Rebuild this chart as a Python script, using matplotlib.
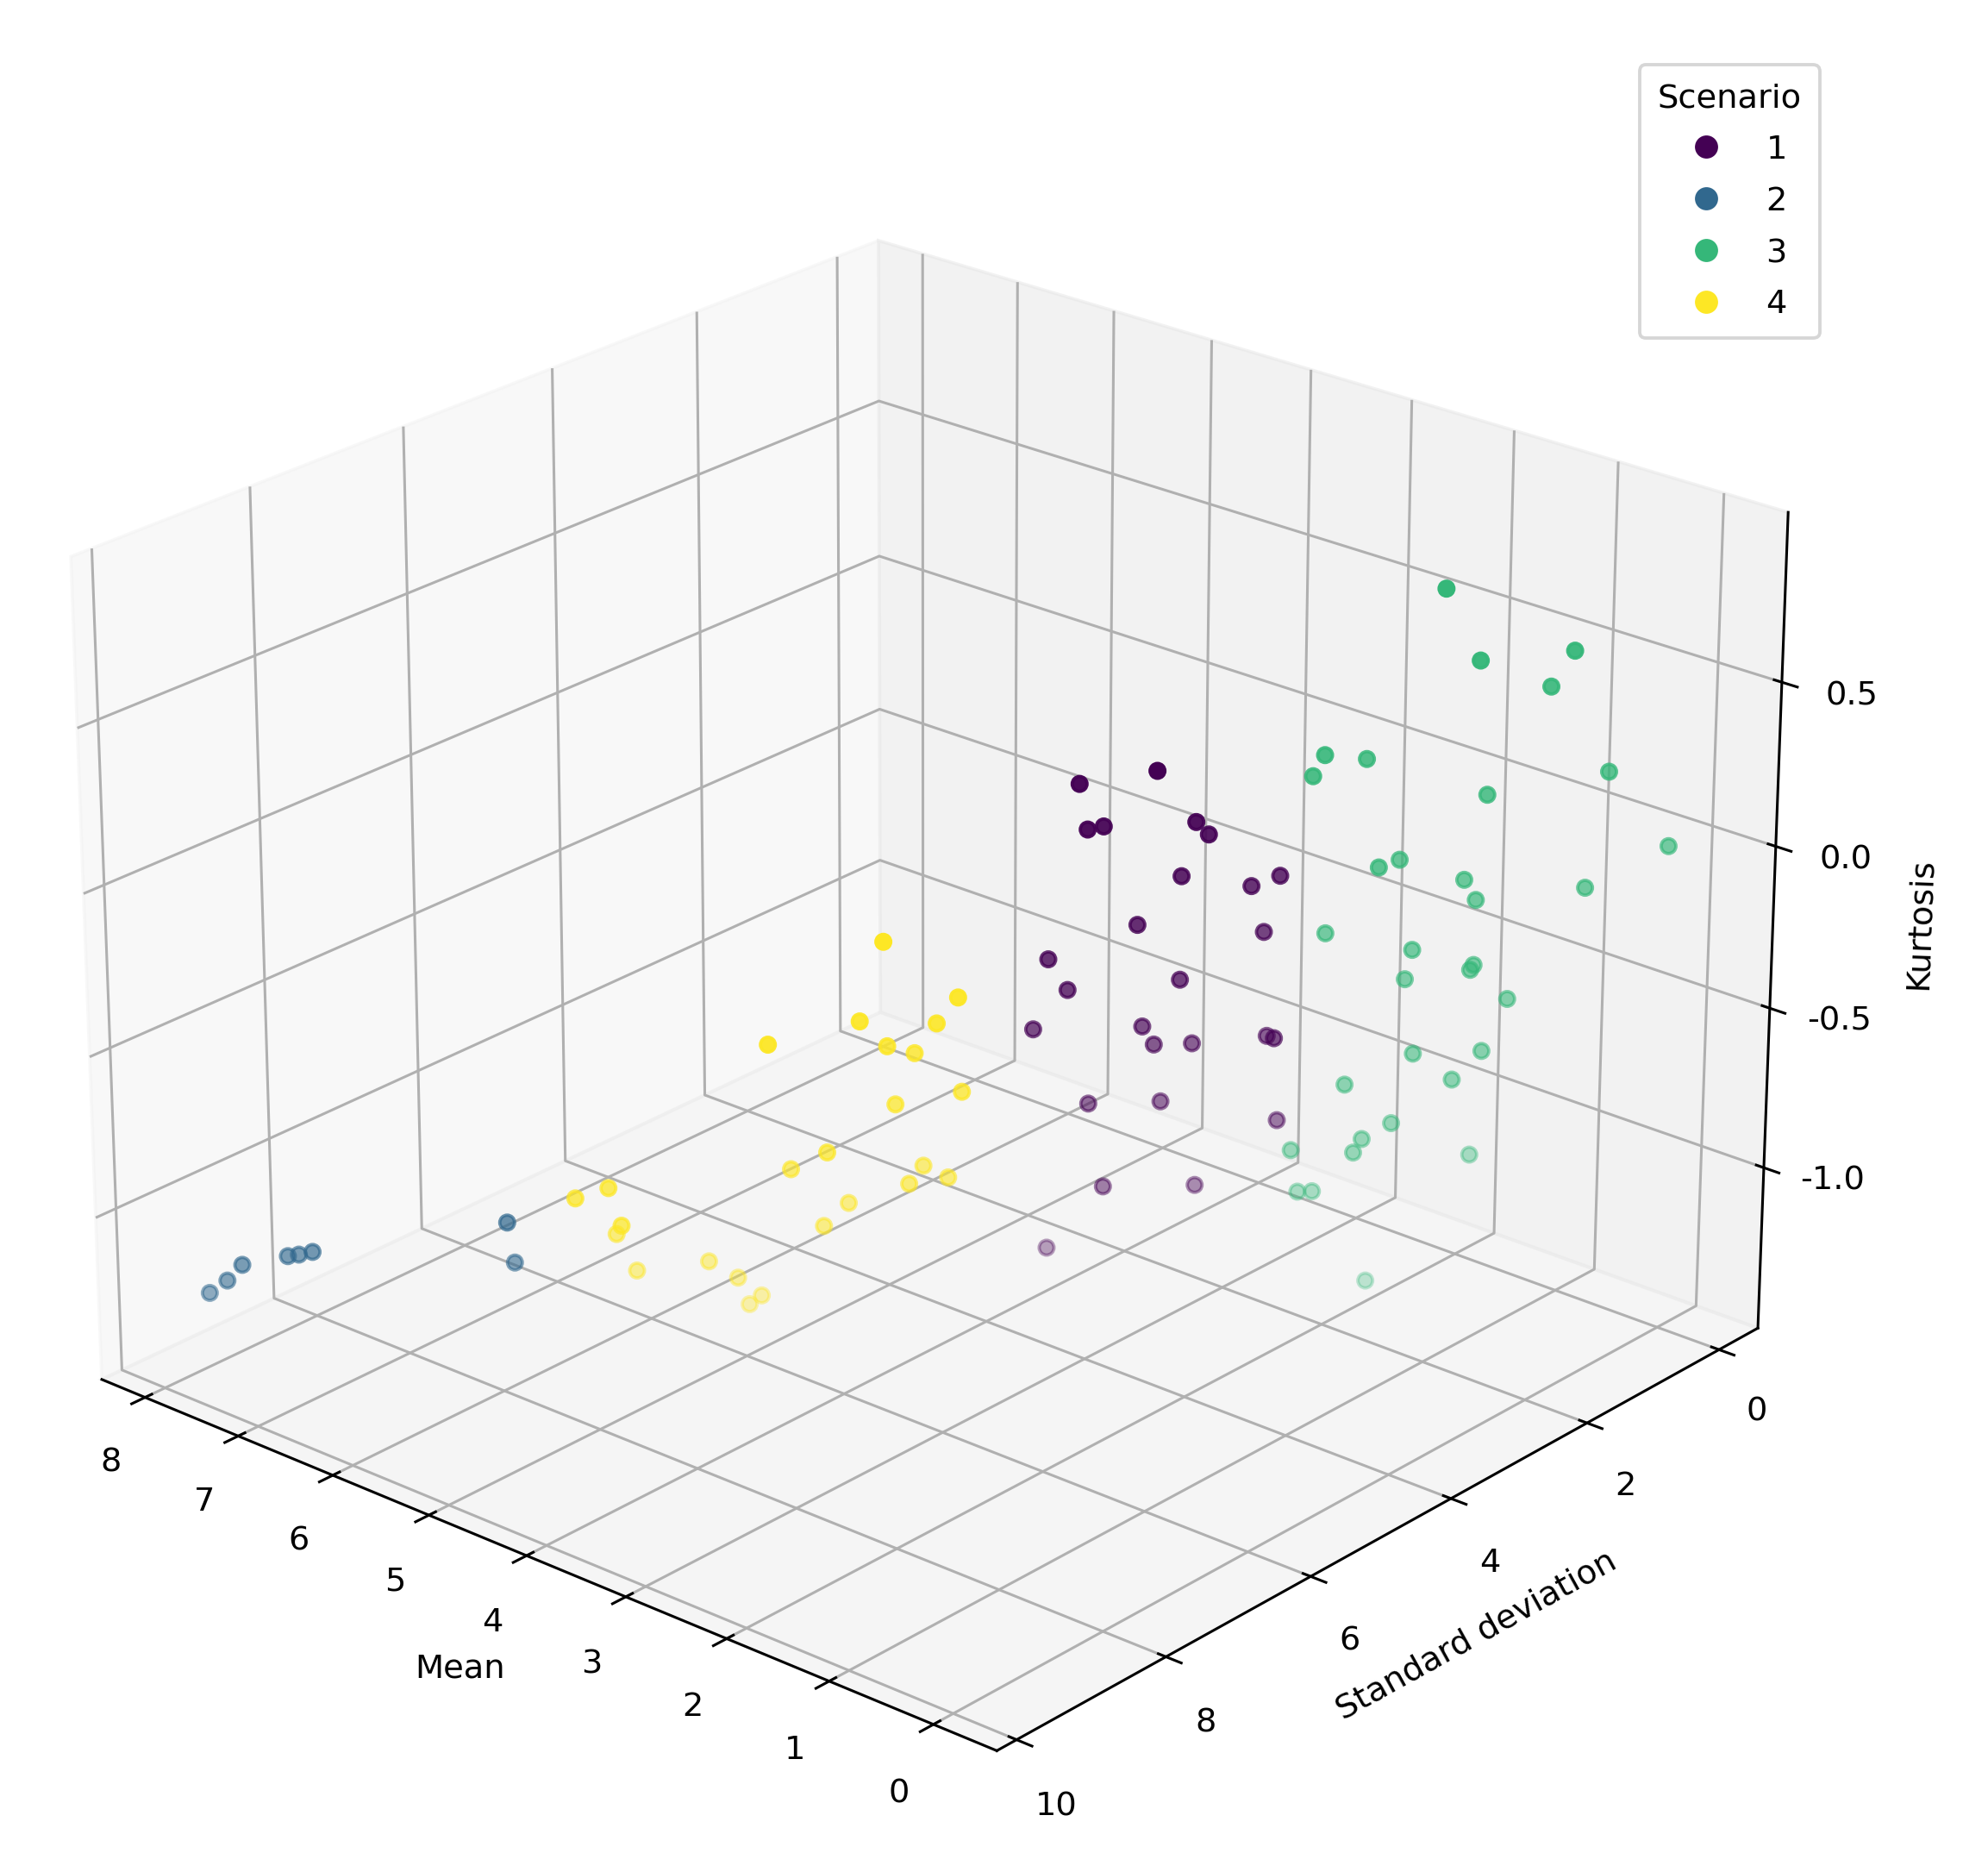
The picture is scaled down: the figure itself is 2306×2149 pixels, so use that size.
import numpy as np
import matplotlib
matplotlib.use("Agg")
import matplotlib.pyplot as plt

# values, one set per scenario
mean_1 = [2.191, 1.692, 2.117, 2.085, 1.577, 1.573, 1.786, 1.526, 1.385, 2.029, 1.569, 2.525, 2.470,
          1.917, 2.764, 2.213, 2.206, 2.074, 1.663, 1.442, 2.671, 2.347, 1.736, 2.653, 2.287, 3.230]
std_1 = [5.274, 4.919, 5.264, 5.089, 4.539, 4.367, 4.432, 3.826, 3.629, 4.691, 3.577, 5.218, 5.027,
         4.249, 5.086, 4.345, 4.190, 3.840, 3.375, 3.599, 4.441, 3.883, 3.103, 4.251, 3.467, 4.226]
kurt_1 = [0.486, 0.541, 0.357, 0.352, 0.363, 0.309, 0.168, 0.104, 0.130, 0.022, -0.065, -0.081, -0.188,
          -0.178, -0.334, -0.343, -0.414, -0.433, -0.414, -0.373, -0.621, -0.638, -0.712, -0.897, -0.937, -1.159]

mean_2 = [7.405, 7.165, 6.949, 6.708, 6.648, 6.472, 5.292, 5.560]
std_2 = [10.086, 10.140, 10.200, 9.905, 9.836, 9.872, 8.808, 8.381]
kurt_2 = [-1.130, -1.057, -0.976, -0.954, -0.950, -0.917, -0.808, -1.011]

mean_3 = [0.444, 0.200, -0.248, -0.051, 1.080, 1.165, 0.978, 0.320, -0.261, -0.413, 0.846, 0.884, 0.559,
          0.513, -0.082, 1.361, 0.834, 0.959, 0.546, 0.495, 0.426, 0.916, 0.529, 0.722, 1.326, 1.125,
          1.262, 1.284, 0.847, 1.710, 1.765, 1.682, 1.493]
std_3 = [2.754, 2.614, 1.948, 1.970, 3.474, 3.511, 3.029, 2.285, 1.416, 0.735, 3.028, 2.671, 2.222,
         2.117, 1.438, 3.004, 2.538, 2.445, 2.076, 2.203, 1.752, 2.370, 1.955, 2.086, 2.739, 2.350,
         2.570, 2.659, 1.605, 2.932, 2.743, 2.654, 2.126]
kurt_3 = [0.995, 0.794, 0.804, 0.680, 0.508, 0.440, 0.463, 0.350, 0.393, 0.116, 0.151, 0.134, 0.062,
          -0.005, 0.026, -0.106, -0.148, -0.261, -0.211, -0.207, -0.336, -0.493, -0.486, -0.582, -0.595, -0.734,
          -0.775, -0.810, -0.882, -0.821, -0.978, -0.977, -1.296]

mean_4 = [2.880, 2.509, 3.477, 3.094, 2.722, 3.101, 3.091, 2.895, 3.330, 3.620, 4.019, 3.423, 3.258,
          3.403, 4.866, 4.700, 4.638, 5.037, 3.927, 4.022, 5.160, 4.832, 4.732, 4.716, 4.836]
std_4 = [6.967, 6.472, 7.704, 6.995, 6.467, 6.617, 6.259, 5.884, 6.194, 6.729, 6.685, 5.684, 5.570,
         5.908, 8.452, 8.229, 8.143, 7.697, 6.025, 6.237, 7.273, 6.729, 6.468, 6.168, 6.176]
kurt_4 = [0.115, -0.063, -0.181, -0.144, -0.165, -0.260, -0.318, -0.454, -0.508, -0.630, -0.732, -0.763, -0.793,
          -0.792, -0.724, -0.698, -0.816, -0.938, -0.899, -0.958, -1.114, -1.108, -1.177, -1.265, -1.306]

mean = mean_1 + mean_2 + mean_3 + mean_4
std = std_1 + std_2 + std_3 + std_4
kurt = kurt_1 + kurt_2 + kurt_3 + kurt_4
scenario = [1] * len(mean_1) + [2] * len(mean_2) + [3] * len(mean_3) + [4] * len(mean_4)

plt.rcParams['axes.unicode_minus'] = False

fig = plt.figure(figsize=(2307/276, 2149/276), dpi=276)
ax = fig.add_axes([-0.05415, -0.02825, 1.0225, 1.0025], projection='3d')
ax.view_init(elev=24, azim=131)

sc = ax.scatter(mean, std, kurt, c=scenario, s=20, cmap='viridis')

ax.set_xlim(-0.6, 8.47)
ax.set_ylim(-0.6, 10.26)
ax.set_zlim(-1.51, 1.01)
ax.set_xticks(range(9))
ax.set_yticks(range(0, 11, 2))
ax.set_zticks([-1, -0.5, 0, 0.5])
ax.tick_params(pad=4.2)
ax.set_xlabel('Mean', labelpad=5)
ax.set_ylabel('Standard deviation', labelpad=5)
ax.set_zlabel('Kurtosis', labelpad=5)

ax.legend(*sc.legend_elements(), title='Scenario', loc='upper right', labelspacing=0.62, borderpad=0.55,
          bbox_to_anchor=(2111/2307, 1-75/2149), bbox_transform=fig.transFigure, borderaxespad=0)

fig.savefig('out.png', dpi=276)
